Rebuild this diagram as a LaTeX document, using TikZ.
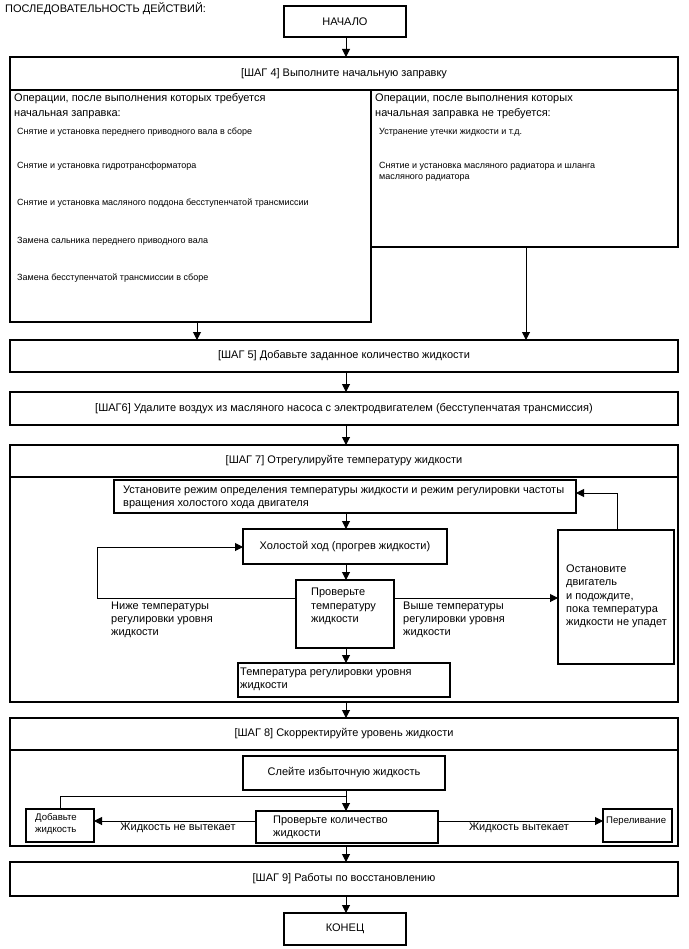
\documentclass[tikz,border=0pt]{standalone}
\usepackage{fontspec}
\setmainfont{Liberation Sans}
\usetikzlibrary{arrows.meta}
\newcommand\rbox[7]{\node[#1, minimum width={(#5-#3)*1pt}, minimum height={(#6-#4)*1pt}] (#2) at ({(#3+#5)/2},{(#4+#6)/2}) {#7};}
\begin{document}
\begin{tikzpicture}[x=1pt,y=-1pt,
 box/.style={draw, line width=1.4pt, inner sep=0pt, outer sep=0pt, font=\fontsize{11}{13}\selectfont},
 ibox/.style={draw, line width=1.2pt, inner sep=0pt, outer sep=0pt, font=\fontsize{11}{13}\selectfont},
 arr/.style={line width=1pt, -{Triangle[length=8pt,width=8pt]}},
 ln/.style={line width=1pt},
 txt/.style={font=\fontsize{11}{13}\selectfont, inner sep=0pt, anchor=west, text height=8pt, text depth=2.2pt},
 sm/.style={font=\fontsize{9}{11}\selectfont, inner sep=0pt, anchor=west, text height=6.5pt, text depth=1.8pt},
 smb/.style={sm, font=\fontsize{9.6}{11}\selectfont},
]
\useasboundingbox (0,0) rectangle (688,949);
\coordinate (ax) at (346,0);
\node[txt] (title) at (5,10) {ПОСЛЕДОВАТЕЛЬНОСТЬ ДЕЙСТВИЙ:};
\rbox{box}{start}{284}{6}{406}{37}{НАЧАЛО}
\rbox{box}{s4h}{10}{57}{678}{90}{[ШАГ 4] Выполните начальную заправку}
\rbox{box}{s4l}{10}{90}{371}{322}{}
\rbox{box}{s4r}{371}{90}{678}{247}{}
\node[txt] (l1) at (14,99) {Операции, после выполнения которых требуется};
\node[txt] (l2) at (14,114) {начальная заправка:};
\node[sm] (i1) at (17,132) {Снятие и установка переднего приводного вала в сборе};
\node[sm] (i2) at (17,166) {Снятие и установка гидротрансформатора};
\node[sm] (i3) at (17,203) {Снятие и установка масляного поддона бесступенчатой трансмиссии};
\node[sm] (i4) at (17,241) {Замена сальника переднего приводного вала};
\node[sm] (i5) at (17,278) {Замена бесступенчатой трансмиссии в сборе};
\node[txt] (r1) at (375,99) {Операции, после выполнения которых};
\node[txt] (r2) at (375,114) {начальная заправка не требуется:};
\node[sm] (j1) at (379,132) {Устранение утечки жидкости и т.д.};
\node[sm] (j2) at (379,166) {Снятие и установка масляного радиатора и шланга};
\node[sm] (j3) at (379,177) {масляного радиатора};
\rbox{box}{s5}{10}{340}{678}{372}{[ШАГ 5] Добавьте заданное количество жидкости}
\rbox{box}{s6}{10}{392}{678}{425}{[ШАГ6] Удалите воздух из масляного насоса с электродвигателем (бесступенчатая трансмиссия)}
\rbox{box}{s7h}{10}{445}{678}{477}{[ШАГ 7] Отрегулируйте температуру жидкости}
\rbox{box}{s7b}{10}{477}{678}{702}{}
\rbox{ibox}{mode}{114}{480}{576}{513}{}
\node[txt] (m1) at (123,491) {Установите режим определения температуры жидкости и режим регулировки частоты};
\node[txt] (m2) at (123,504) {вращения холостого хода двигателя};
\rbox{ibox}{idle}{243}{529}{447}{564}{Холостой ход (прогрев жидкости)}
\rbox{ibox}{check}{296}{580}{394}{648}{}
\node[txt] (c1) at (311,593) {Проверьте};
\node[txt] (c2) at (311,607) {температуру};
\node[txt] (c3) at (311,620) {жидкости};
\rbox{ibox}{result}{238}{663}{450}{697}{}
\node[txt] (t1) at (240,673) {Температура регулировки уровня};
\node[txt] (t2) at (240,686) {жидкости};
\rbox{ibox}{stop}{558}{530}{674}{664}{}
\node[txt] (p1) at (566,570) {Остановите};
\node[txt] (p2) at (566,583) {двигатель};
\node[txt] (p3) at (566,597) {и подождите,};
\node[txt] (p4) at (566,610) {пока температура};
\node[txt] (p5) at (566,623) {жидкости не упадет};
\node[txt] (n1) at (111,607) {Ниже температуры};
\node[txt] (n2) at (111,620) {регулировки уровня};
\node[txt] (n3) at (111,633) {жидкости};
\node[txt] (v1) at (403,607) {Выше температуры};
\node[txt] (v2) at (403,620) {регулировки уровня};
\node[txt] (v3) at (403,633) {жидкости};
\rbox{box}{s8h}{10}{718}{678}{750}{[ШАГ 8] Скорректируйте уровень жидкости}
\rbox{box}{s8b}{10}{750}{678}{846}{}
\rbox{ibox}{drain}{243}{756}{445}{790}{Слейте избыточную жидкость}
\rbox{ibox}{check2}{256}{811}{438}{843}{}
\node[txt] (q1) at (273,821) {Проверьте количество};
\node[txt] (q2) at (273,834) {жидкости};
\rbox{ibox}{add}{26}{809}{94}{842}{}
\node[smb] (a1) at (35,818) {Добавьте};
\node[smb] (a2) at (35,830) {жидкость};
\rbox{ibox}{over}{603}{809}{672}{842}{}
\node[smb] (o1) at (606,821) {Переливание};
\node[txt, anchor=center] (w1) at (178,828) {Жидкость не вытекает};
\node[txt, anchor=center] (w2) at (519,828) {Жидкость вытекает};
\rbox{box}{s9}{10}{862}{678}{896}{[ШАГ 9] Работы по восстановлению}
\rbox{box}{end}{284}{913}{406}{945}{КОНЕЦ}
% connectors
\draw[arr] (ax |- start.south) -- (ax |- s4h.north);
\coordinate (cl) at (197,0);
\coordinate (cr) at (526,0);
\draw[arr] (cl |- s4l.south) -- (cl |- s5.north);
\draw[arr] (cr |- s4r.south) -- (cr |- s5.north);
\draw[arr] (ax |- s5.south) -- (ax |- s6.north);
\draw[arr] (ax |- s6.south) -- (ax |- s7h.north);
\draw[arr] (ax |- mode.south) -- (ax |- idle.north);
\draw[arr] (ax |- idle.south) -- (ax |- check.north);
\draw[arr] (ax |- check.south) -- (ax |- result.north);
\coordinate (lpL) at (97,598);
\coordinate (lpT) at (97,547);
\draw[arr] (lpL -| check.west) -- (lpL) -- (lpT) -- (lpT -| idle.west);
\draw[arr] (lpL -| check.east) -- (lpL -| stop.west);
\coordinate (su) at (617,493);
\draw[arr] (su |- stop.north) -- (su) -- (su -| mode.east);
\draw[arr] (ax |- s7b.south) -- (ax |- s8h.north);
\draw[arr] (ax |- drain.south) -- (ax |- check2.north);
\coordinate (ml) at (60,796);
\draw[ln] (add.north) -- (ml) -- (ml -| ax);
\coordinate (hy) at (0,821);
\draw[arr] (hy -| check2.west) -- (hy -| add.east);
\draw[arr] (hy -| check2.east) -- (hy -| over.west);
\draw[arr] (ax |- s8b.south) -- (ax |- s9.north);
\draw[arr] (ax |- s9.south) -- (ax |- end.north);
\end{tikzpicture}
\end{document}
